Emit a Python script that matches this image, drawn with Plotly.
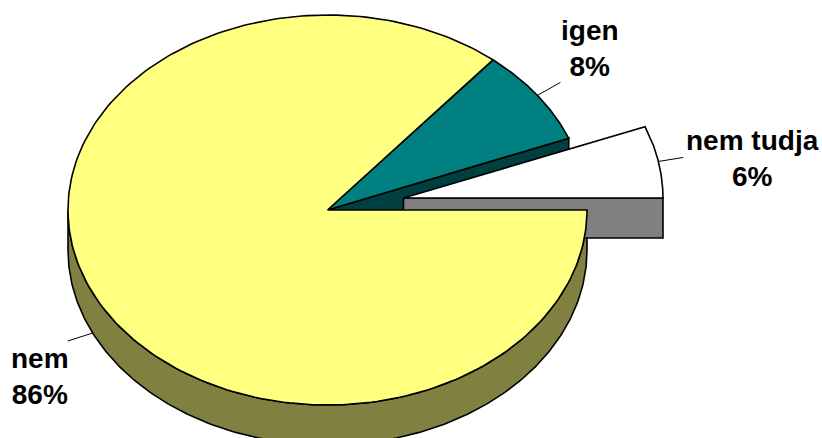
import numpy as np
import plotly.graph_objects as go

categories = ["nem", "igen", "nem tudja"]
shares = [86, 8, 6]
percent_labels = ["86%", "8%", "6%"]

W, H = 822, 438
CX, CY, RX, RY, DEPTH = 327.5, 210, 259.5, 195, 40
EXPLODE_WHITE = (76, -12)
TOP = {"nem": "#FFFF80", "igen": "#008080", "nem tudja": "#FFFFFF"}
SIDE = {"nem": "#808040", "igen": "#004040", "nem tudja": "#808080"}

frac = np.array(shares) / sum(shares) * 360.0
# angles in degrees, counter-clockwise from east; "nem" runs clockwise from 0
a_nem_end = -frac[0]
a_igen = (a_nem_end + 360, a_nem_end + 360 - frac[1])
a_tudja = (a_igen[1], a_igen[1] - frac[2])


def rim(a, ox=0, oy=0):
    r = np.radians(a)
    return CX + ox + RX * np.cos(r), CY + oy - RY * np.sin(r)


def arc(a0, a1, ox=0, oy=0, n=240):
    return rim(np.linspace(a0, a1, n), ox, oy)


fig = go.Figure()


def poly(x, y, fill, lw=1.6):
    x = np.append(x, x[0])
    y = np.append(y, y[0])
    fig.add_trace(go.Scatter(
        x=x, y=y, mode="lines", fill="toself", fillcolor=fill,
        line=dict(color="#000000", width=lw), hoverinfo="skip", showlegend=False))


def wedge(a0, a1, ox=0, oy=0):
    ax, ay = arc(a0, a1, ox, oy)
    return np.r_[CX + ox, ax], np.r_[CY + oy, ay]


# yellow outer wall
tx, ty = arc(0, -180)
bx, by = arc(-180, 0, 0, DEPTH)
poly(np.r_[tx, bx], np.r_[ty, by], SIDE["nem"])

# teal cut face and top
ex, ey = rim(a_igen[1])
poly(np.array([CX, ex, ex, CX]), np.array([CY, ey, ey + DEPTH, CY + DEPTH]), SIDE["igen"])
poly(*wedge(*a_igen), TOP["igen"])

# exploded white slice: cut face and top
ox, oy = EXPLODE_WHITE
ex, ey = rim(a_tudja[1], ox, oy)
poly(np.array([CX + ox, ex, ex, CX + ox]),
     np.array([CY + oy, ey, ey + DEPTH, CY + oy + DEPTH]), SIDE["nem tudja"])
poly(*wedge(*a_tudja, ox, oy), TOP["nem tudja"])

# yellow top
poly(*wedge(0, a_nem_end), TOP["nem"])

# leader lines from the middle of each slice's rim
mid = {
    "nem": rim(a_nem_end / 2, 0, DEPTH),
    "igen": rim(sum(a_igen) / 2),
    "nem tudja": rim(sum(a_tudja) / 2, ox, oy),
}
leader_delta = {"nem": (-25, 8), "igen": (23, -13), "nem tudja": (25, -4)}
label_pos = {"nem": (40, 376), "igen": (590, 48), "nem tudja": (752, 158)}

for c, pct in zip(categories, percent_labels):
    mx, my = mid[c]
    dx, dy = leader_delta[c]
    fig.add_trace(go.Scatter(
        x=[mx, mx + dx], y=[my, my + dy], mode="lines",
        line=dict(color="#000000", width=1), hoverinfo="skip", showlegend=False))
    lx, ly = label_pos[c]
    fig.add_annotation(
        x=lx, y=ly, text=f"<b>{c}</b><br><b>{pct}</b>", showarrow=False, align="center",
        xanchor="center", yanchor="middle",
        font=dict(family="Liberation Sans, Arial, sans-serif", size=28, color="#000000"))

fig.update_layout(
    width=W, height=H, margin=dict(l=0, r=0, t=0, b=0),
    paper_bgcolor="#FFFFFF", plot_bgcolor="#FFFFFF", showlegend=False,
    xaxis=dict(range=[0, W], visible=False, fixedrange=True),
    yaxis=dict(range=[H, 0], visible=False, fixedrange=True),
)
fig.write_html("out.html", config={"displayModeBar": False},
               post_script="document.body.style.margin='0';document.documentElement.style.overflow='hidden';")
